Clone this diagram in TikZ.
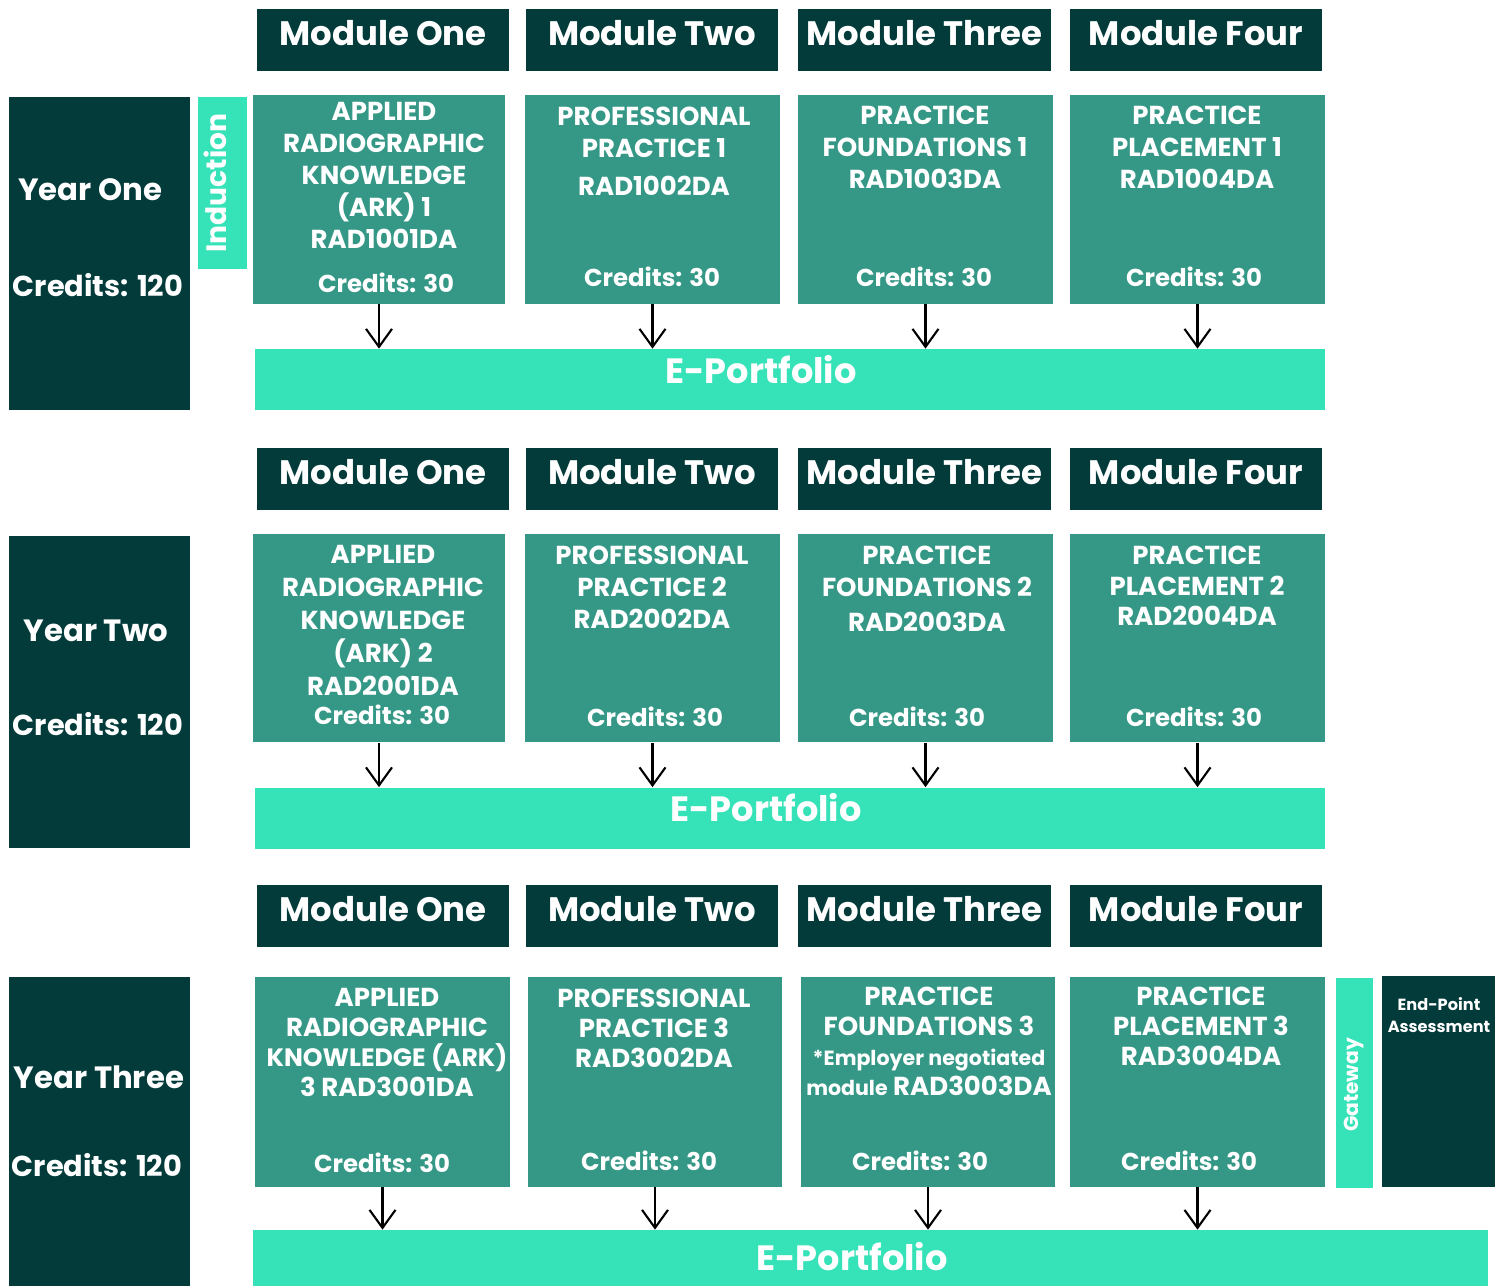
\documentclass[tikz,border=0pt]{standalone}
\usepackage{fontspec}
\setmainfont{Poppins}
\usetikzlibrary{positioning}
\usetikzlibrary{arrows.meta}
\definecolor{deepteal}{RGB}{3, 59, 59}
\definecolor{midteal}{RGB}{53, 152, 134}
\definecolor{mintgreen}{RGB}{54, 226, 184}

\begin{document}
\begin{tikzpicture}[x=0.02cm, y=-0.02cm,
    header/.style={fill=deepteal, text=white, inner sep=0, minimum width=5.06cm, minimum height=1.24cm, text depth=0.75em, font=\fontsize{19.3}{23}\selectfont\bfseries},
    yearbox/.style={fill=deepteal, inner sep=0, minimum width=3.62cm, minimum height=6.26cm},
    yeartext/.style={text=white, inner sep=0, anchor=base, font=\fontsize{17.5}{21}\selectfont\bfseries},
    yearcred/.style={yeartext, font=\fontsize{16.4}{20}\selectfont\bfseries},
    modbox/.style={fill=midteal, inner sep=0, minimum width=5.1cm, minimum height=4.18cm},
    modtext/.style={text=white, inner sep=0, anchor=north, align=center, font=\fontsize{14.8}{18.2}\selectfont\bfseries},
    credtext/.style={text=white, inner sep=0, anchor=base, font=\fontsize{13.9}{16}\selectfont\bfseries},
    portbox/.style={fill=mintgreen, inner sep=0, minimum width=21.4cm, minimum height=1.22cm},
    porttext/.style={text=white, inner sep=0, anchor=base, font=\fontsize{20}{24}\selectfont\bfseries},
    feed/.style={-{Straight Barb[length=0.36cm, width=0.52cm]}, line width=1.2pt},
]
    \useasboundingbox (0, 0) rectangle (1504, 1286);

    % module headers, one row per year
    \foreach \row/\cy in {1/40, 2/479, 3/916} {
        \foreach \name/\cx [count=\i] in {One/383, Two/652, Three/924.5, Four/1196} {
            \node[header] (head\row\i) at (\cx, \cy) {Module \name};
        }
    }

    % year one
    \node[yearbox] (year1) at (99.5, 253.5) {};
    \node[yeartext] (year1name) at (90, 200) {Year One};
    \node[yearcred] (year1cred) at (98, 296) {Credits: 120};
    \node[fill=mintgreen, inner sep=0, minimum width=0.98cm, minimum height=3.44cm] (induct) at (222.5, 183) {};
    \node[text=white, inner sep=0, rotate=90, anchor=base, font=\fontsize{16}{19}\selectfont\bfseries] (inducttext) at (226, 183) {Induction};

    \node[modbox, minimum width=5.04cm] (mod11) at (379, 199.5) {};
    \node[modbox] (mod12) at (652.5, 199.5) {};
    \node[modbox] (mod13) at (925.5, 199.5) {};
    \node[modbox] (mod14) at (1197.5, 199.5) {};
    \node[modtext] (mod11title) at (384, 102) {APPLIED\\RADIOGRAPHIC\\KNOWLEDGE\\(ARK) 1\\RAD1001DA};
    \node[modtext] (mod12title) at (654, 107) {PROFESSIONAL\\PRACTICE 1\\[3.4pt]RAD1002DA};
    \node[modtext] (mod13title) at (925, 106) {PRACTICE\\FOUNDATIONS 1\\RAD1003DA};
    \node[modtext] (mod14title) at (1197, 106) {PRACTICE\\PLACEMENT 1\\RAD1004DA};
    \node[credtext] (mod11cred) at (386, 292.5) {Credits: 30};
    \node[credtext] (mod12cred) at (652, 286.5) {Credits: 30};
    \node[credtext] (mod13cred) at (924, 286.5) {Credits: 30};
    \node[credtext] (mod14cred) at (1194, 286.5) {Credits: 30};

    \node[portbox] (port1) at (790, 379.5) {};
    \node[porttext] (port1text) at (761, 383) {E-Portfolio};

    % year two
    \node[yearbox] (year2) at (99.5, 692) {};
    \node[yeartext] (year2name) at (96, 641) {Year Two};
    \node[yearcred] (year2cred) at (98, 735) {Credits: 120};

    \node[modbox, minimum width=5.04cm] (mod21) at (379, 638) {};
    \node[modbox] (mod22) at (652.5, 638) {};
    \node[modbox] (mod23) at (925.5, 638) {};
    \node[modbox] (mod24) at (1197.5, 638) {};
    \node[modtext, font=\fontsize{14.8}{18.8}\selectfont\bfseries] (mod21title) at (383, 545) {APPLIED\\RADIOGRAPHIC\\KNOWLEDGE\\(ARK) 2\\RAD2001DA};
    \node[modtext] (mod22title) at (652, 545.5) {PROFESSIONAL\\PRACTICE 2\\RAD2002DA};
    \node[modtext] (mod23title) at (927, 545.5) {PRACTICE\\FOUNDATIONS 2\\[1.7pt]RAD2003DA};
    \node[modtext, font=\fontsize{14.8}{17.3}\selectfont\bfseries] (mod24title) at (1197, 546) {PRACTICE\\PLACEMENT 2\\RAD2004DA};
    \node[credtext] (mod21cred) at (382, 724.5) {Credits: 30};
    \node[credtext] (mod22cred) at (655, 726.5) {Credits: 30};
    \node[credtext] (mod23cred) at (917, 726.5) {Credits: 30};
    \node[credtext] (mod24cred) at (1194, 726.5) {Credits: 30};

    \node[portbox] (port2) at (790, 818) {};
    \node[porttext] (port2text) at (766, 821) {E-Portfolio};

    % year three
    \node[yearbox, minimum height=6.18cm] (year3) at (99.5, 1131.5) {};
    \node[yeartext] (year3name) at (99, 1088) {Year Three};
    \node[yearcred] (year3cred) at (97, 1176) {Credits: 120};

    \node[modbox, minimum height=4.2cm] (mod31) at (382.5, 1082) {};
    \node[modbox, minimum height=4.2cm, minimum width=5.08cm] (mod32) at (655, 1082) {};
    \node[modbox, minimum height=4.2cm, minimum width=5.08cm] (mod33) at (928, 1082) {};
    \node[modbox, minimum height=4.2cm] (mod34) at (1197.5, 1082) {};
    \node[modtext, font=\fontsize{14.8}{17}\selectfont\bfseries] (mod31title) at (387, 988) {APPLIED\\RADIOGRAPHIC\\{\fontsize{14.3}{17}\selectfont KNOWLEDGE (ARK)}\\3 RAD3001DA};
    \node[modtext, font=\fontsize{14.8}{17}\selectfont\bfseries] (mod32title) at (654, 989) {PROFESSIONAL\\PRACTICE 3\\RAD3002DA};
    \node[modtext, font=\fontsize{14.8}{17}\selectfont\bfseries] (mod33title) at (929, 987) {PRACTICE\\FOUNDATIONS 3\\{\fontsize{11.7}{17}\selectfont *Employer negotiated}\\{\fontsize{11.7}{17}\selectfont module} RAD3003DA};
    \node[modtext, font=\fontsize{14.8}{17}\selectfont\bfseries] (mod34title) at (1201, 987) {PRACTICE\\PLACEMENT 3\\RAD3004DA};
    \node[credtext] (mod31cred) at (382, 1172.5) {Credits: 30};
    \node[credtext] (mod32cred) at (649, 1170.5) {Credits: 30};
    \node[credtext] (mod33cred) at (920, 1170.5) {Credits: 30};
    \node[credtext] (mod34cred) at (1189, 1170.5) {Credits: 30};

    \node[fill=mintgreen, inner sep=0, minimum width=0.74cm, minimum height=4.2cm] (gate) at (1354.5, 1083) {};
    \node[text=white, inner sep=0, rotate=90, anchor=base, font=\fontsize{11.5}{14}\selectfont\bfseries] (gatetext) at (1358, 1085) {Gateway};
    \node[fill=deepteal, inner sep=0, minimum width=2.26cm, minimum height=4.22cm] (epa) at (1438.5, 1081.5) {};
    \node[text=white, inner sep=0, anchor=north, align=center, font=\fontsize{9.2}{12.5}\selectfont\bfseries] (epatext) at (1439, 997) {End-Point\\Assessment};

    \node[portbox, minimum width=24.7cm, minimum height=1.12cm] (port3) at (870.5, 1258) {};
    \node[porttext] (port3text) at (852, 1270) {E-Portfolio};

    % arrows into the portfolios
    \foreach \row in {1, 2, 3} {
        \foreach \i in {1, 2, 3, 4} {
            \draw[feed] (mod\row\i.south) -- (mod\row\i.south |- port\row.north);
        }
    }
\end{tikzpicture}
\end{document}
